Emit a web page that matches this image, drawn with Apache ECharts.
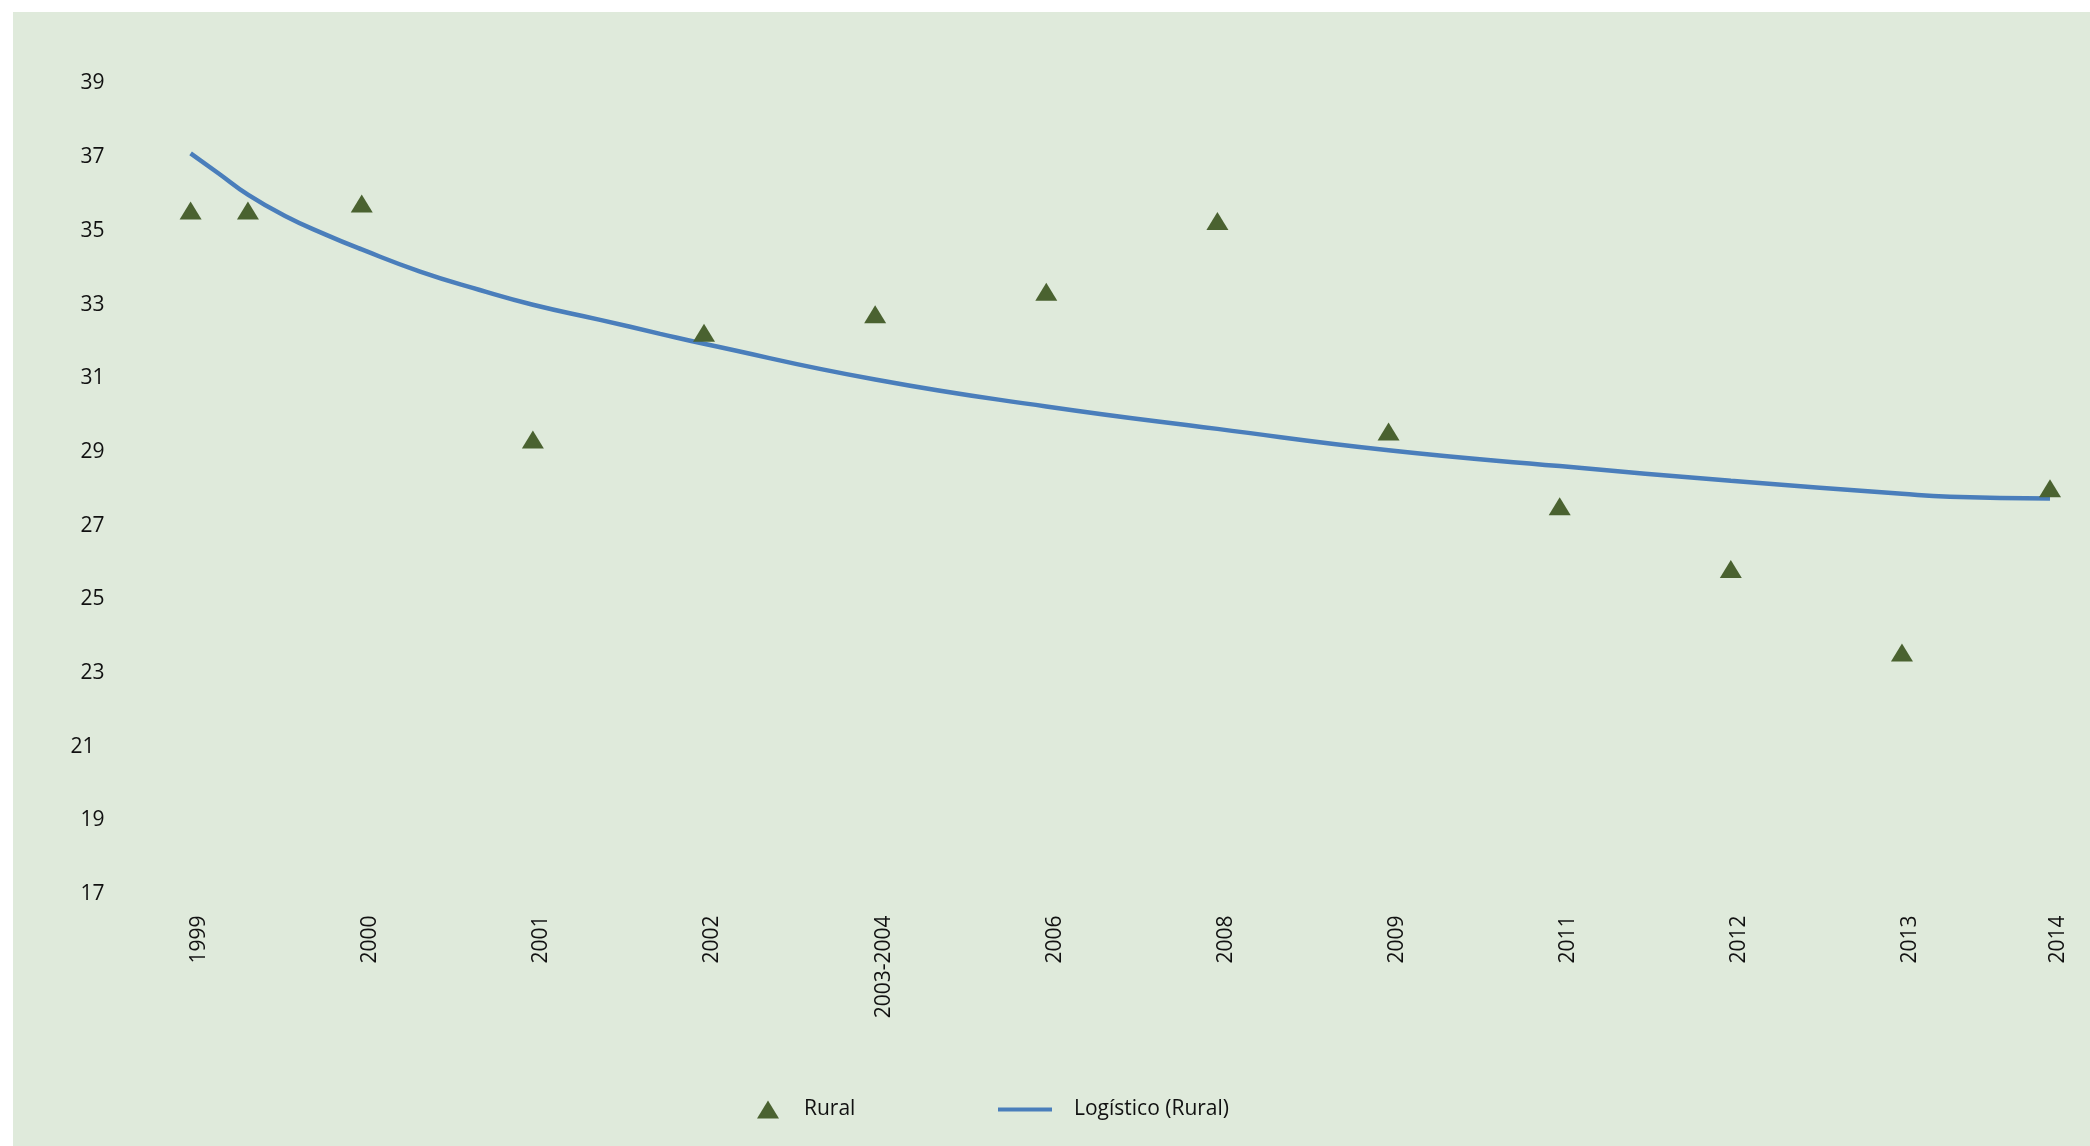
<!DOCTYPE html>
<html>
<head>
<meta charset="utf-8">
<script src="https://cdn.jsdelivr.net/npm/echarts@6/dist/echarts.min.js"></script>
<style>
html,body{margin:0;padding:0;background:#ffffff;}
#chart{width:2090px;height:1146px;}
</style>
</head>
<body>
<div id="chart"></div>
<script>
// ---- data ----
const categories = ['1999','2000','2001','2002','2003-2004','2006','2008','2009','2011','2012','2013','2014'];
const categoryX = [0,1,2,3,4,5,6,7,8,9,10,10.865];
const ruralX = [0,0.335,1,2,3,4,5,6,7,8,9,10,10.865];
const ruralY = [35.46,35.46,35.65,29.24,32.14,32.64,33.25,35.17,29.46,27.43,25.73,23.46,27.92];
const trendX = [0,0.162,0.337,0.552,0.786,1,1.341,1.69,2,2.393,2.744,3,4,5,6,7,8,9,10,10.28,10.865];
const trendY = [37.01,36.47,35.88,35.31,34.81,34.40,33.80,33.30,32.90,32.49,32.11,31.84,30.87,30.14,29.53,28.95,28.52,28.12,27.77,27.69,27.64];
const yMin = 17, yMax = 39, yStep = 2;

const FONT = '"Open Sans", "Noto Sans", sans-serif';
const chart = echarts.init(document.getElementById('chart'), null, {renderer:'canvas'});

function labelFor(v){
  let best = 0, d = Infinity;
  categoryX.forEach((c,i)=>{ const dd = Math.abs(c - v); if (dd < d){ d = dd; best = i; } });
  return categories[best];
}

chart.setOption({
  backgroundColor: '#ffffff',
  animation: false,
  graphic: [{
    type: 'rect', z: -10, silent: true,
    shape: {x: 13, y: 12, width: 2077, height: 1134},
    style: {fill: '#dfeadb'}
  }],
  grid: {left: 190.6, right: 40, top: 80, bottom: 255.5, containLabel: false},
  xAxis: {
    type: 'value', min: 0, max: categoryX[categoryX.length-1],
    axisLine: {show: false}, axisTick: {show: false}, splitLine: {show: false},
    axisLabel: {
      customValues: categoryX,
      rotate: 90, margin: 25,
      verticalAlign: 'top', lineHeight: 17,
      color: '#111', fontFamily: FONT, fontSize: 21,
      formatter: v => labelFor(v)
    }
  },
  yAxis: {
    type: 'value', min: yMin, max: yMax, interval: yStep,
    axisLine: {show: false}, axisTick: {show: false}, splitLine: {show: false},
    axisLabel: {
      margin: 86, color: '#111', fontFamily: FONT, fontSize: 21,
      padding: [7, 0, 0, 0],
      formatter: v => (v === 21 ? '{s|' + v + '}' : String(v)),
      rich: {s: {fontFamily: FONT, fontSize: 21, color: '#111', padding: [0, 10, 0, 0]}}
    }
  },
  legend: [{
    data: ['Rural'], left: 752, top: 1094,
    icon: 'triangle', itemWidth: 22, itemHeight: 18,
    itemStyle: {color: '#4a6230', opacity: 1},
    textStyle: {fontFamily: FONT, fontSize: 21, color: '#111', padding: [0,0,0,20]}
  },{
    data: ['Logístico (Rural)'], left: 993, top: 1094,
    icon: 'rect', itemWidth: 54, itemHeight: 4,
    textStyle: {fontFamily: FONT, fontSize: 21, color: '#111', padding: [0,0,0,17]}
  }],
  series: [{
    name: 'Logístico (Rural)', type: 'line',
    data: trendX.map((x,i)=>[x, trendY[i]]),
    smooth: 0.5, showSymbol: false, symbol: 'none',
    lineStyle: {color: '#4a7ebb', width: 4.5},
    itemStyle: {color: '#4a7ebb'}, z: 2
  },{
    name: 'Rural', type: 'scatter',
    data: ruralX.map((x,i)=>[x, ruralY[i]]),
    symbol: 'triangle', symbolSize: [22, 18],
    itemStyle: {color: '#4a6230', opacity: 1}, z: 3
  }]
});
</script>
</body>
</html>
